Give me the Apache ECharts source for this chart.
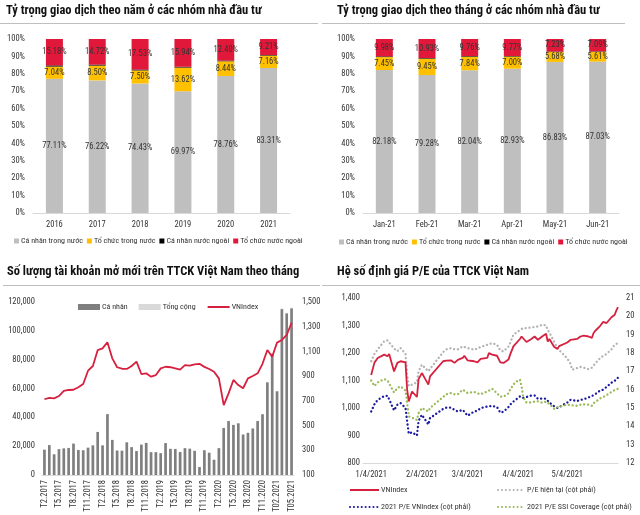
<!DOCTYPE html>
<html>
<head>
<meta charset="utf-8">
<script src="https://cdn.jsdelivr.net/npm/echarts@6/dist/echarts.min.js"></script>
<style>
  html, body { margin: 0; padding: 0; background: #fff; }
  #chart { width: 640px; height: 515px; }
</style>
</head>
<body>
<div id="chart"></div>
<script>
// --- top left: share of trading value by investor group, per year (%)
const years = ['2016', '2017', '2018', '2019', '2020', '2021']
const yearIndDom = [77.11, 76.22, 74.43, 69.97, 78.76, 83.31]
const yearInstDom = [7.04, 8.50, 7.50, 13.62, 8.44, 7.16]
const yearIndFor = [0.67, 0.56, 0.54, 0.47, 0.40, 0.32]
const yearInstFor = [15.18, 14.72, 17.53, 15.94, 12.40, 9.21]

// --- top right: same, per month of 2021 (%)
const months = ['Jan-21', 'Feb-21', 'Mar-21', 'Apr-21', 'May-21', 'Jun-21']
const monthIndDom = [82.18, 79.28, 82.04, 82.93, 86.83, 87.03]
const monthInstDom = [7.45, 9.45, 7.84, 7.00, 5.68, 5.61]
const monthIndFor = [0.39, 0.34, 0.36, 0.30, 0.26, 0.27]
const monthInstFor = [9.98, 10.93, 9.76, 9.77, 7.23, 7.09]

// --- bottom left: new accounts per month + VNIndex
const accMonths = [
  'T2.2017', 'T3.2017', 'T4.2017', 'T5.2017', 'T6.2017', 'T7.2017', 'T8.2017', 'T9.2017', 'T10.2017', 'T11.2017', 'T12.2017',
  'T1.2018', 'T2.2018', 'T3.2018', 'T4.2018', 'T5.2018', 'T6.2018', 'T7.2018', 'T8.2018', 'T9.2018', 'T10.2018', 'T11.2018', 'T12.2018',
  'T1.2019', 'T2.2019', 'T3.2019', 'T4.2019', 'T5.2019', 'T6.2019', 'T7.2019', 'T8.2019', 'T9.2019', 'T10.2019', 'T11.2019', 'T12.2019',
  'T1.2020', 'T2.2020', 'T3.2020', 'T4.2020', 'T5.2020', 'T6.2020', 'T7.2020', 'T8.2020', 'T9.2020', 'T10.2020', 'T11.2020', 'T12.2020',
  'T01.2021', 'T02.2021', 'T03.2021', 'T04.2021', 'T05.2021'
]
const accIndividual = [
  17500, 20700, 14300, 17900, 18400, 18700, 21700, 17300, 17100, 18900, 20500,
  29800, 20500, 42200, 24300, 16900, 16800, 22600, 19300, 16600, 21000, 22200, 15800,
  15800, 15100, 22100, 18100, 18000, 15900, 18600, 18200, 16700, 5500, 17100, 15400,
  10500, 18600, 32600, 37400, 34700, 35800, 28000, 29200, 32200, 37400, 42100, 64200,
  84000, 58000, 115000, 112000, 115500
]
const accTotal = [
  17700, 20900, 14500, 18100, 18600, 18900, 21900, 17500, 17300, 19100, 20700,
  30000, 20700, 42400, 24500, 17100, 17000, 22800, 19500, 16800, 21200, 22400, 16000,
  16000, 15300, 22300, 18300, 18200, 16100, 18800, 18400, 16900, 5700, 17300, 15600,
  10700, 18800, 32800, 37600, 34900, 36000, 28200, 29400, 32400, 37600, 42300, 64500,
  84400, 58300, 115500, 112500, 116000
]
const accVnindex = [
  713, 725, 720, 739, 780, 788, 790, 810, 836, 944, 982,
  1111, 1125, 1174, 1044, 972, 960, 958, 982, 1017, 917, 923, 896,
  909, 963, 976, 972, 962, 952, 990, 985, 996, 1000, 975, 958,
  936, 882, 666, 761, 869, 828, 802, 882, 901, 923, 1000, 1112,
  1057, 1171, 1193, 1233, 1332
]

// --- bottom right: VNIndex and P/E, daily 2021
const peDates = [
  '2021-01-04', '2021-01-06', '2021-01-08', '2021-01-12', '2021-01-14', '2021-01-15', '2021-01-18', '2021-01-20',
  '2021-01-22', '2021-01-25', '2021-01-26', '2021-01-27', '2021-01-29', '2021-02-01', '2021-02-02', '2021-02-04',
  '2021-02-05', '2021-02-08', '2021-02-09', '2021-02-17', '2021-02-19', '2021-02-22', '2021-02-24', '2021-02-26',
  '2021-03-01', '2021-03-02', '2021-03-04', '2021-03-08', '2021-03-10', '2021-03-12', '2021-03-16', '2021-03-17',
  '2021-03-19', '2021-03-22', '2021-03-24', '2021-03-26', '2021-03-29', '2021-03-30', '2021-04-01', '2021-04-02',
  '2021-04-05', '2021-04-06', '2021-04-07', '2021-04-09', '2021-04-12', '2021-04-13', '2021-04-14', '2021-04-16',
  '2021-04-19', '2021-04-20', '2021-04-21', '2021-04-22', '2021-04-23', '2021-04-26', '2021-04-28', '2021-04-29',
  '2021-05-04', '2021-05-06', '2021-05-07', '2021-05-10', '2021-05-12', '2021-05-14', '2021-05-17', '2021-05-19',
  '2021-05-20', '2021-05-21', '2021-05-24', '2021-05-26', '2021-05-28', '2021-05-31', '2021-06-02', '2021-06-03',
  '2021-06-04'
]
const peVnindex = [
  1120, 1165, 1182, 1194, 1188, 1196, 1133, 1164,
  1170, 1166, 1067, 1024, 1060, 1040, 1105, 1127,
  1117, 1085, 1115, 1170, 1172, 1173, 1164, 1175,
  1182, 1190, 1173, 1170, 1166, 1179, 1182, 1200,
  1194, 1190, 1166, 1164, 1176, 1194, 1224, 1230,
  1251, 1260, 1260, 1240, 1251, 1248, 1260, 1248,
  1262, 1268, 1270, 1242, 1251, 1222, 1215, 1225,
  1238, 1248, 1245, 1251, 1260, 1263, 1260, 1255,
  1272, 1280, 1298, 1313, 1309, 1330, 1339, 1355,
  1367
]
const peCurrent = [
  17.55, 17.95, 18.2, 18.65, 18.69, 18.62, 18.25, 18.1,
  18.27, 17.95, 16.82, 16.2, 16.28, 16.4, 17.0, 17.36,
  17.36, 17.0, 17.13, 18.05, 18.2, 18.27, 18.2, 18.2,
  18.36, 18.3, 18.27, 18.18, 18.25, 18.33, 18.45, 18.5,
  18.54, 18.45, 18.14, 18.09, 18.35, 18.54, 19.0, 19.1,
  19.25, 19.3, 19.36, 19.35, 19.4, 19.4, 19.42, 19.45,
  19.55, 19.62, 19.5, 19.25, 19.12, 18.6, 18.25, 18.18,
  17.7, 17.4, 17.09, 17.18, 17.24, 17.2, 17.12, 17.2,
  17.3, 17.42, 17.72, 17.85, 17.95, 18.2, 18.45, 18.52,
  18.55
]
const pe2021Vnindex = [
  14.81, 15.2, 15.45, 15.65, 15.67, 15.6, 14.87, 15.18,
  15.27, 15.0, 14.27, 13.6, 13.68, 13.5, 14.3, 14.63,
  14.58, 14.1, 14.45, 14.95, 15.02, 15.02, 14.9, 14.81,
  14.9, 14.85, 14.58, 14.81, 14.85, 15.0, 15.08, 15.12,
  15.12, 15.05, 14.75, 14.8, 15.05, 15.18, 15.35, 15.42,
  15.63, 15.6, 15.55, 15.6, 15.68, 15.72, 15.68, 15.5,
  15.52, 15.55, 15.5, 15.42, 15.3, 15.09, 15.0, 15.1,
  15.3, 15.45, 15.4, 15.38, 15.45, 15.47, 15.58, 15.65,
  15.67, 15.75, 15.95, 16.0, 16.15, 16.38, 16.48, 16.6,
  16.65
]
const pe2021Ssi = [
  16.5, 16.2, 16.4, 16.58, 16.5, 16.47, 15.85, 16.09,
  16.18, 15.95, 15.27, 14.54, 14.47, 14.35, 14.72, 15.0,
  15.0, 14.81, 15.0, 15.6, 15.75, 15.82, 15.75, 15.75,
  16.0, 15.9, 15.82, 15.88, 15.8, 15.75, 15.9, 16.0,
  16.05, 15.8, 15.62, 15.62, 15.8, 16.0, 16.27, 16.4,
  16.55, 16.2, 15.6, 15.3, 15.3, 15.32, 15.35, 15.36,
  15.28, 15.3, 15.35, 15.3, 15.22, 14.95, 15.05, 15.1,
  15.18, 15.15, 15.1, 15.12, 15.18, 15.2, 15.18, 15.12,
  15.25, 15.35, 15.52, 15.6, 15.7, 15.88, 15.98, 16.02,
  16.05
]
const peLabelDates = ['2021-01-04', '2021-02-04', '2021-03-04', '2021-04-04', '2021-05-04']

const font = "'Roboto Condensed', 'Liberation Sans Narrow', 'Arial Narrow', 'Liberation Sans', sans-serif"
const txt = '#333'
const COLORS = { gray: '#BFBFBF', yellow: '#FFC000', black: '#000000', red: '#E2183A' }
const groupNames = ['Cá nhân trong nước', 'Tổ chức trong nước', 'Cá nhân nước ngoài', 'Tổ chức nước ngoài']

const toDate = s => { const [y, m, d] = s.split('-').map(Number); return new Date(y, m - 1, d).getTime() }
const comma = v => Number(v).toLocaleString('en-US')

function stackSeries(idx, cols) {
  const colors = [COLORS.gray, COLORS.yellow, COLORS.black, COLORS.red]
  return cols.map((data, i) => ({
    name: groupNames[i],
    type: 'bar',
    stack: 'share' + idx,
    xAxisIndex: idx,
    yAxisIndex: idx,
    barWidth: 17,
    data,
    itemStyle: { color: colors[i] },
    label: {
      show: i !== 2,
      position: 'inside',
      fontFamily: font,
      fontSize: 8.5,
      color: '#333',
      formatter: p => p.value.toFixed(2) + '%'
    }
  }))
}

const titleStyle = { fontFamily: font, fontSize: 12.5, fontWeight: 'bold', color: '#111' }
const axisLabel = { fontFamily: font, fontSize: 8.5, color: txt }
const lightLine = { lineStyle: { color: '#D9D9D9', width: 1 } }

function catAxis(gridIndex, data) {
  return {
    type: 'category', gridIndex, data,
    axisLine: lightLine, axisTick: { show: false },
    axisLabel: { ...axisLabel, margin: 7 }
  }
}
function pctAxis(gridIndex) {
  return {
    type: 'value', gridIndex, min: 0, max: 100, interval: 10,
    axisLine: { show: false }, axisTick: { show: false }, splitLine: { show: false },
    axisLabel: { ...axisLabel, formatter: '{value}%', margin: 8 }
  }
}
function legendRow(left, top, data, extra) {
  return {
    left, top, data, padding: 0, itemGap: 4,
    itemWidth: 5, itemHeight: 5, icon: 'rect',
    textStyle: { fontFamily: font, fontSize: 8, color: txt, padding: [0, 0, 0, -3] },
    ...extra
  }
}
// legend entry for a line series: line only, no marker
const lineItem = name => ({ name, itemStyle: { opacity: 0 } })
const dotted = (color) => ({ color, width: 2.3, type: [0.1, 3.8], cap: 'round' })
const peSeries = vals => peDates.map((d, i) => [toDate(d), vals[i]])
const title = (text, left, top) => ({ text, left, top, padding: 0, textStyle: titleStyle })

const chart = echarts.init(document.getElementById('chart'))
chart.setOption({
  animation: false,
  title: [
    title('Tỷ trọng giao dịch theo năm ở các nhóm nhà đầu tư', 6, 4),
    title('Tỷ trọng giao dịch theo tháng ở các nhóm nhà đầu tư', 337, 4),
    title('Số lượng tài khoản mở mới trên TTCK Việt Nam theo tháng', 7, 265),
    title('Hệ số định giá P/E của TTCK Việt Nam', 337, 265)
  ],
  graphic: [
    { type: 'line', shape: { x1: 0, y1: 23.5, x2: 318, y2: 23.5 }, style: { stroke: '#BFBFBF', lineWidth: 1 } },
    { type: 'line', shape: { x1: 322, y1: 23.5, x2: 625, y2: 23.5 }, style: { stroke: '#BFBFBF', lineWidth: 1 } },
    { type: 'line', shape: { x1: 3, y1: 285.5, x2: 320, y2: 285.5 }, style: { stroke: '#BFBFBF', lineWidth: 1 } },
    { type: 'line', shape: { x1: 322, y1: 285.5, x2: 640, y2: 285.5 }, style: { stroke: '#BFBFBF', lineWidth: 1 } }
  ],
  legend: [
    legendRow(14, 237, groupNames.map(n => ({ name: n }))),
    legendRow(339, 238, groupNames.map(n => ({ name: n }))),
    legendRow(78, 303, [{ name: 'Cá nhân', icon: 'rect' }, { name: 'Tổng cộng', icon: 'rect' }, lineItem('VNIndex')],
      { itemWidth: 22, itemHeight: 6, itemGap: 11, icon: null }),
    legendRow(349, 486, [lineItem('VNIndex')], { itemWidth: 29, itemHeight: 6, icon: null }),
    legendRow(497, 486, [lineItem('P/E hiện tại (cột phải)')], { itemWidth: 27, itemHeight: 6, icon: null }),
    legendRow(349, 503, [lineItem('2021 P/E VNIndex (cột phải)')], { itemWidth: 29, itemHeight: 6, icon: null }),
    legendRow(497, 503, [lineItem('2021 P/E SSI Coverage (cột phải)')], { itemWidth: 27, itemHeight: 6, icon: null })
  ],
  grid: [
    { left: 33, top: 39, width: 257, height: 174 },
    { left: 363, top: 39, width: 256, height: 174 },
    { left: 42, top: 302, width: 252, height: 173 },
    { left: 363, top: 298, width: 255, height: 165 }
  ],
  xAxis: [
    catAxis(0, years),
    catAxis(1, months),
    {
      type: 'category', gridIndex: 2, data: accMonths,
      axisLine: lightLine, axisTick: { show: false },
      axisLabel: { ...axisLabel, rotate: 90, interval: 2, margin: 5 }
    },
    {
      type: 'value', gridIndex: 3, min: toDate('2020-12-30'), max: toDate('2021-06-04'),
      axisLine: lightLine, axisTick: { show: false }, splitLine: { show: false },
      axisLabel: {
        ...axisLabel, margin: 7,
        customValues: peLabelDates.map(toDate),
        formatter: v => { const d = new Date(v); return (d.getMonth() + 1) + '/' + d.getDate() + '/' + d.getFullYear() }
      }
    }
  ],
  yAxis: [
    pctAxis(0),
    pctAxis(1),
    {
      type: 'value', gridIndex: 2, min: 0, max: 120000, interval: 20000,
      axisLine: { show: false }, axisTick: { show: false }, splitLine: { show: false },
      axisLabel: { ...axisLabel, margin: 7, formatter: comma }
    },
    {
      type: 'value', gridIndex: 2, position: 'right', min: 100, max: 1500, interval: 200,
      axisLine: { show: false }, axisTick: { show: false }, splitLine: { show: false },
      axisLabel: { ...axisLabel, margin: 8, formatter: comma }
    },
    {
      type: 'value', gridIndex: 3, min: 800, max: 1400, interval: 100,
      axisLine: { show: false }, axisTick: { show: false }, splitLine: { show: false },
      axisLabel: { ...axisLabel, margin: 3, formatter: comma }
    },
    {
      type: 'value', gridIndex: 3, position: 'right', min: 12, max: 21, interval: 1,
      axisLine: { show: false }, axisTick: { show: false }, splitLine: { show: false },
      axisLabel: { ...axisLabel, margin: 8 }
    }
  ],
  series: [
    ...stackSeries(0, [yearIndDom, yearInstDom, yearIndFor, yearInstFor]),
    ...stackSeries(1, [monthIndDom, monthInstDom, monthIndFor, monthInstFor]),
    {
      name: 'Tổng cộng', type: 'bar', xAxisIndex: 2, yAxisIndex: 2,
      data: accTotal, barWidth: 2.6, barGap: '-100%', itemStyle: { color: '#D9D9D9' }
    },
    {
      name: 'Cá nhân', type: 'bar', xAxisIndex: 2, yAxisIndex: 2,
      data: accIndividual, barWidth: 2.6, barGap: '-100%', itemStyle: { color: '#7F7F7F' }
    },
    {
      name: 'VNIndex', type: 'line', xAxisIndex: 2, yAxisIndex: 3,
      data: accVnindex, symbol: 'none', itemStyle: { color: '#D6203F' },
      lineStyle: { color: '#D6203F', width: 1.8 }
    },
    {
      name: 'P/E hiện tại (cột phải)', type: 'line', xAxisIndex: 3, yAxisIndex: 5, symbol: 'none',
      data: peSeries(peCurrent),
      itemStyle: { color: '#B3B3B3' }, lineStyle: dotted('#B3B3B3')
    },
    {
      name: '2021 P/E VNIndex (cột phải)', type: 'line', xAxisIndex: 3, yAxisIndex: 5, symbol: 'none',
      data: peSeries(pe2021Vnindex),
      itemStyle: { color: '#1A1AA0' }, lineStyle: dotted('#1A1AA0')
    },
    {
      name: '2021 P/E SSI Coverage (cột phải)', type: 'line', xAxisIndex: 3, yAxisIndex: 5, symbol: 'none',
      data: peSeries(pe2021Ssi),
      itemStyle: { color: '#9BBB59' }, lineStyle: dotted('#9BBB59')
    },
    {
      name: 'VNIndex', type: 'line', xAxisIndex: 3, yAxisIndex: 4, symbol: 'none',
      data: peSeries(peVnindex),
      itemStyle: { color: '#D6203F' }, lineStyle: { color: '#D6203F', width: 1.8 }
    }
  ]
})
</script>
</body>
</html>
